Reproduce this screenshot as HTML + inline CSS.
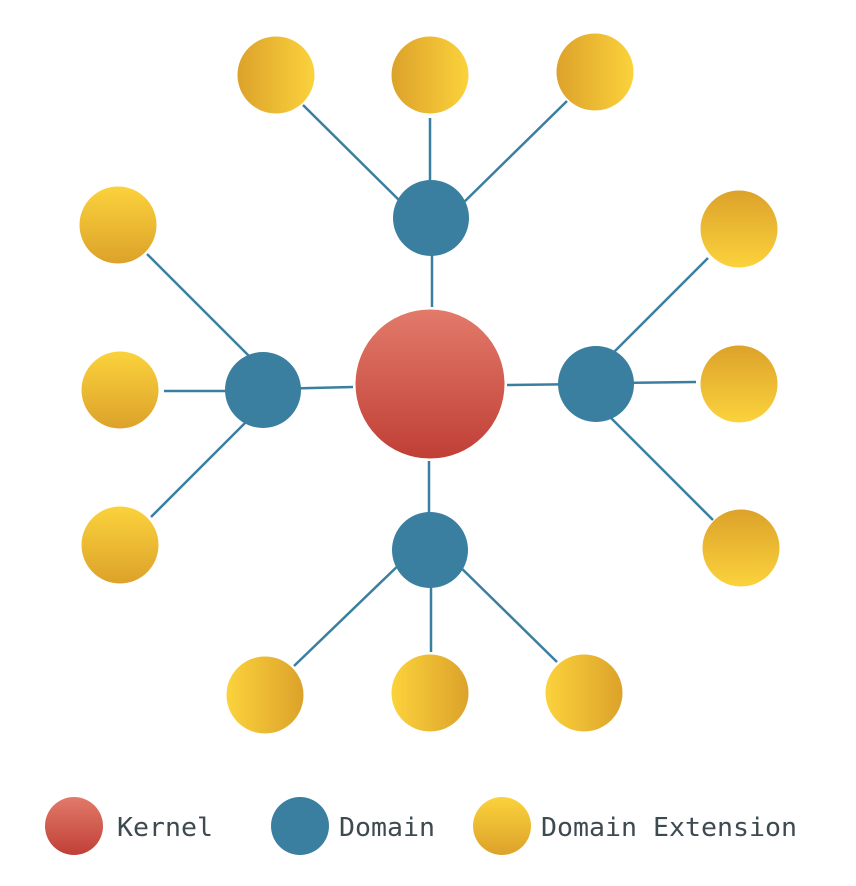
<!DOCTYPE html>
<html><head><meta charset="utf-8"><style>
html,body{margin:0;padding:0;background:#fff;}
svg{display:block;}
text{font-family:"DejaVu Sans Mono","Liberation Mono",monospace;font-size:26px;fill:#3d4a50;}
</style></head><body>
<svg width="856" height="886" viewBox="0 0 856 886" xmlns="http://www.w3.org/2000/svg">
<defs>
<linearGradient id="k" x1="0" y1="0" x2="0" y2="1"><stop offset="0" stop-color="#e27a6a"/><stop offset="1" stop-color="#c03f36"/></linearGradient>
<linearGradient id="yT" x1="0" y1="0" x2="1" y2="0"><stop offset="0" stop-color="#dca22a"/><stop offset="1" stop-color="#fbd23c"/></linearGradient>
<linearGradient id="yB" x1="0" y1="0" x2="1" y2="0"><stop offset="0" stop-color="#fbd23c"/><stop offset="1" stop-color="#dca22a"/></linearGradient>
<linearGradient id="yL" x1="0" y1="0" x2="0" y2="1"><stop offset="0" stop-color="#fbd23c"/><stop offset="1" stop-color="#dca22a"/></linearGradient>
<linearGradient id="yR" x1="0" y1="0" x2="0" y2="1"><stop offset="0" stop-color="#dca22a"/><stop offset="1" stop-color="#fbd23c"/></linearGradient>
</defs>
<g stroke="#3a7fa0" stroke-width="2.5">
<line x1="432" y1="230" x2="432" y2="307"/>
<line x1="270" y1="389" x2="353" y2="387"/>
<line x1="590" y1="384" x2="507" y2="385"/>
<line x1="429" y1="540" x2="429" y2="461"/>
<!-- top -->
<line x1="303" y1="105" x2="405" y2="206"/>
<line x1="430" y1="118" x2="430" y2="200"/>
<line x1="567" y1="101" x2="458" y2="208"/>
<!-- left -->
<line x1="147" y1="254" x2="255" y2="362"/>
<line x1="164" y1="391" x2="240" y2="391"/>
<line x1="151" y1="517" x2="252" y2="416"/>
<!-- right -->
<line x1="708" y1="258" x2="607" y2="359"/>
<line x1="696" y1="382" x2="620" y2="383"/>
<line x1="713" y1="520" x2="605" y2="412"/>
<!-- bottom -->
<line x1="294" y1="666" x2="405" y2="559"/>
<line x1="431" y1="652" x2="431" y2="570"/>
<line x1="557" y1="662" x2="452" y2="559"/>
</g>
<circle cx="430" cy="384" r="74.5" fill="url(#k)"/>
<g fill="#3a7fa0">
<circle cx="431" cy="218" r="38"/>
<circle cx="263" cy="390" r="38"/>
<circle cx="596" cy="384" r="38"/>
<circle cx="430" cy="550" r="38"/>
</g>
<circle cx="276" cy="75" r="38.5" fill="url(#yT)"/>
<circle cx="430" cy="75" r="38.5" fill="url(#yT)"/>
<circle cx="595" cy="72" r="38.5" fill="url(#yT)"/>
<circle cx="118" cy="225" r="38.5" fill="url(#yL)"/>
<circle cx="120" cy="390" r="38.5" fill="url(#yL)"/>
<circle cx="120" cy="545" r="38.5" fill="url(#yL)"/>
<circle cx="739" cy="229" r="38.5" fill="url(#yR)"/>
<circle cx="739" cy="384" r="38.5" fill="url(#yR)"/>
<circle cx="741" cy="548" r="38.5" fill="url(#yR)"/>
<circle cx="265" cy="695" r="38.5" fill="url(#yB)"/>
<circle cx="430" cy="693" r="38.5" fill="url(#yB)"/>
<circle cx="584" cy="693" r="38.5" fill="url(#yB)"/>
<circle cx="74" cy="826" r="29" fill="url(#k)"/>
<circle cx="300" cy="826" r="29" fill="#3a7fa0"/>
<circle cx="502" cy="826" r="29" fill="url(#yL)"/>
<text x="117" y="836" textLength="96" lengthAdjust="spacingAndGlyphs">Kernel</text>
<text x="339" y="836" textLength="96" lengthAdjust="spacingAndGlyphs">Domain</text>
<text x="541" y="836" textLength="256" lengthAdjust="spacingAndGlyphs">Domain Extension</text>
</svg>
</body></html>
